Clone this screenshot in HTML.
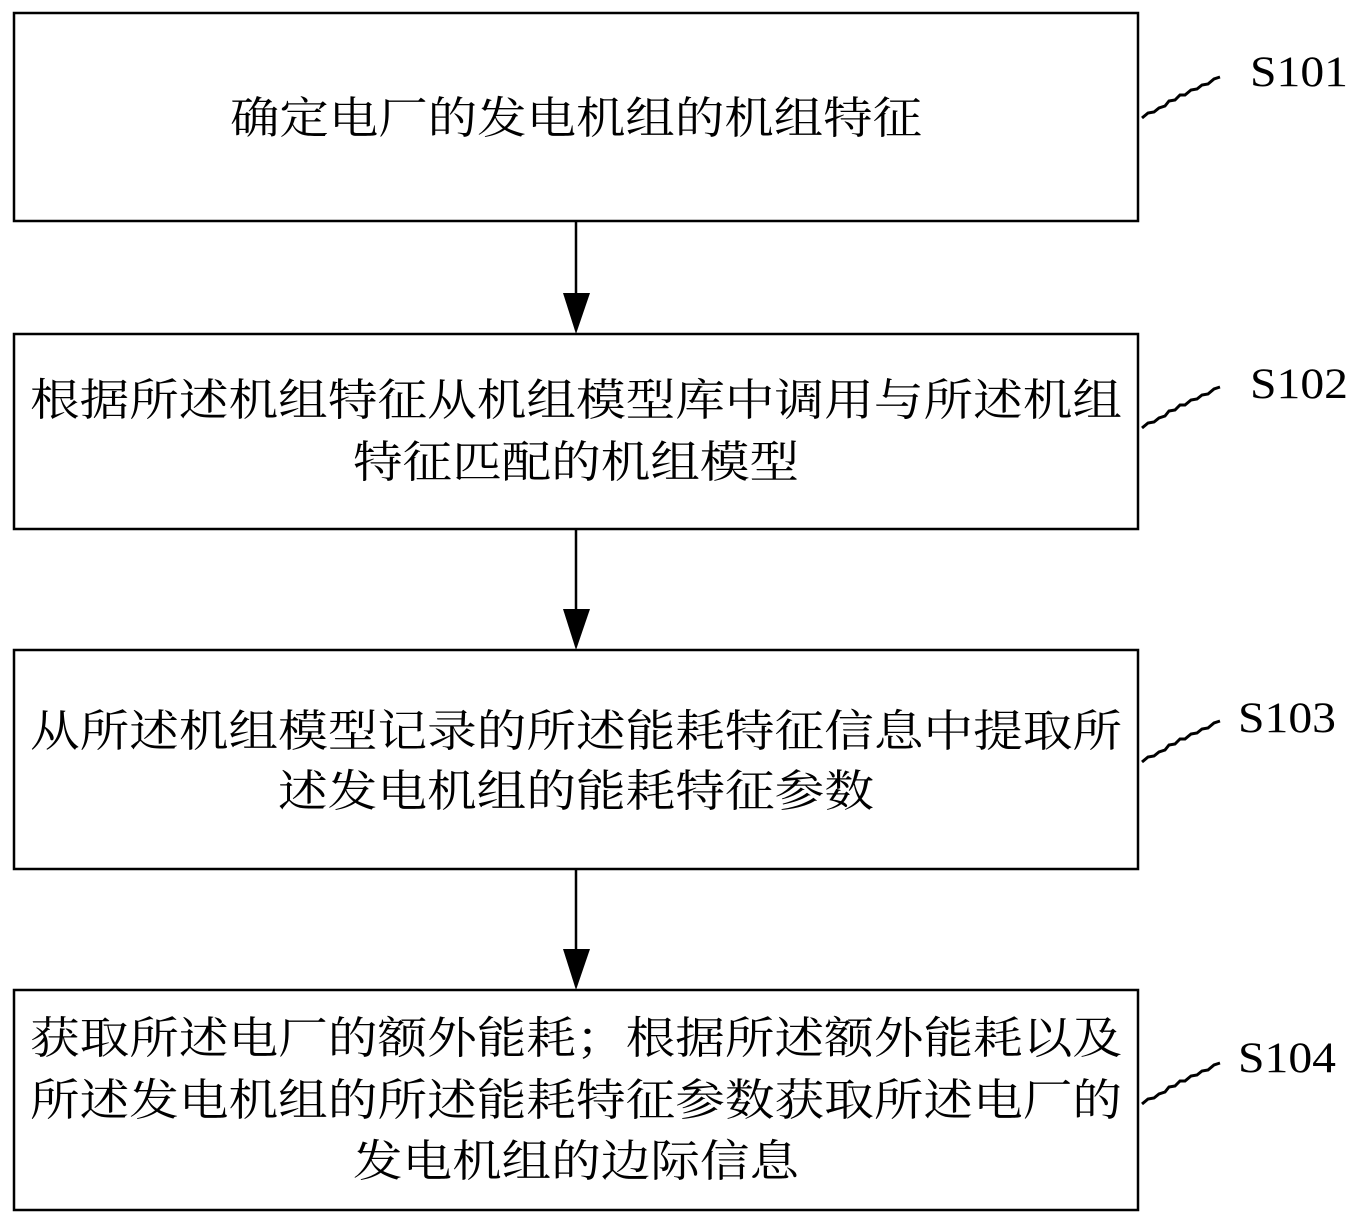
<!DOCTYPE html>
<html><head><meta charset="utf-8"><style>
html,body{margin:0;padding:0;background:#fff;}
svg text{font-family:"Liberation Serif","Noto Serif CJK SC",serif;fill:#000;}
</style></head><body>
<svg width="1365" height="1225" viewBox="0 0 1365 1225" xmlns="http://www.w3.org/2000/svg">
<g fill="none" stroke="#000" stroke-width="2.5">
<rect x="14" y="13" width="1124" height="208"/>
<rect x="14" y="334" width="1124" height="195"/>
<rect x="14" y="650" width="1124" height="219"/>
<rect x="14" y="990" width="1124" height="220"/>
<line x1="576" y1="221" x2="576" y2="296"/>
<line x1="576" y1="529" x2="576" y2="612"/>
<line x1="576" y1="869" x2="576" y2="952"/>
<g stroke-width="3">
<path d="M1142 118 l6 -5 l6 -1 l5 -4 l6 -2 l4 -5 l6 -1 l5 -5 l5 0 l6 -5 l6 -1 l5 -4 l6 -1 l6 -5 l6 -2"/>
<path d="M1142 428 l6 -5 l6 -1 l5 -4 l6 -2 l4 -5 l6 -1 l5 -5 l5 0 l6 -5 l6 -1 l5 -4 l6 -1 l6 -5 l6 -2"/>
<path d="M1142 762 l6 -5 l6 -1 l5 -4 l6 -2 l4 -5 l6 -1 l5 -5 l5 0 l6 -5 l6 -1 l5 -4 l6 -1 l6 -5 l6 -2"/>
<path d="M1142 1104 l6 -5 l6 -1 l5 -4 l6 -2 l4 -5 l6 -1 l5 -5 l5 0 l6 -5 l6 -1 l5 -4 l6 -1 l6 -5 l6 -2"/>
</g>
</g>
<g fill="#000">
<polygon points="563,293 590,293 576,334"/>
<polygon points="563,609 590,609 576,650"/>
<polygon points="563,949 590,949 576,990"/>
</g>
<g font-size="44">
<text x="576" y="133" text-anchor="middle" textLength="692" lengthAdjust="spacingAndGlyphs">确定电厂的发电机组的机组特征</text>
<text x="30" y="415" textLength="1092" lengthAdjust="spacingAndGlyphs">根据所述机组特征从机组模型库中调用与所述机组</text>
<text x="353" y="477" textLength="446" lengthAdjust="spacingAndGlyphs">特征匹配的机组模型</text>
<text x="30" y="746" textLength="1092" lengthAdjust="spacingAndGlyphs">从所述机组模型记录的所述能耗特征信息中提取所</text>
<text x="278" y="806" textLength="596" lengthAdjust="spacingAndGlyphs">述发电机组的能耗特征参数</text>
<text x="30" y="1053" textLength="1092" lengthAdjust="spacingAndGlyphs">获取所述电厂的额外能耗；根据所述额外能耗以及</text>
<text x="30" y="1115" textLength="1092" lengthAdjust="spacingAndGlyphs">所述发电机组的所述能耗特征参数获取所述电厂的</text>
<text x="353" y="1176" textLength="446" lengthAdjust="spacingAndGlyphs">发电机组的边际信息</text>
</g>
<g font-size="43">
<text x="1250" y="86" textLength="98" lengthAdjust="spacingAndGlyphs">S101</text>
<text x="1250" y="398" textLength="98" lengthAdjust="spacingAndGlyphs">S102</text>
<text x="1238" y="732" textLength="98" lengthAdjust="spacingAndGlyphs">S103</text>
<text x="1238" y="1072" textLength="98" lengthAdjust="spacingAndGlyphs">S104</text>
</g>
</svg>
</body></html>
